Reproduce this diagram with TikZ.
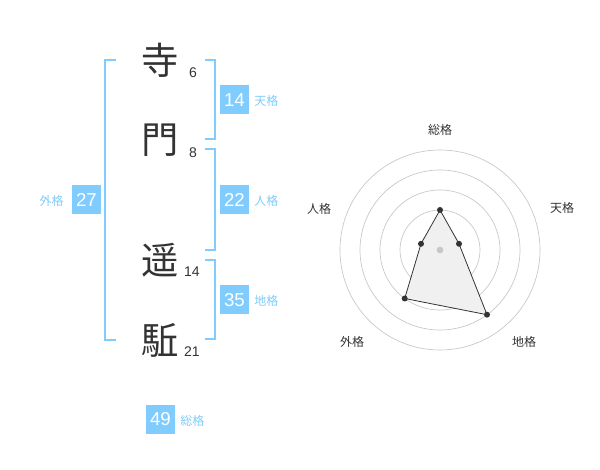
\documentclass[tikz,border=0pt]{standalone}
\usepackage{fontspec}
\setmainfont{Liberation Sans}
\newfontfamily\cjk{Noto Sans CJK JP}
\definecolor{bl}{HTML}{80CCFF}
\definecolor{lbl}{HTML}{80CCF8}
\definecolor{txt}{HTML}{333333}
\begin{document}
\begin{tikzpicture}[x=0.75pt,y=-0.75pt,
  kanji/.style={font=\cjk\fontsize{28}{28}\selectfont,text=txt,inner sep=0pt},
  strk/.style={font=\fontsize{10.5}{10.5}\selectfont,text=txt,inner sep=0pt},
  valbox/.style={fill=bl,text=white,minimum width=21.75pt,minimum height=21.75pt,inner sep=0pt,font=\fontsize{14}{14}\selectfont},
  kaku/.style={font=\cjk\fontsize{9}{9}\selectfont,text=lbl,inner sep=0pt},
  brk/.style={draw=bl,line width=1.5pt},
  ring/.style={draw=black!22,line width=0.5pt},
  axlbl/.style={font=\cjk\fontsize{9}{9}\selectfont,text=txt,inner sep=0pt},
  dot/.style={circle,fill=txt,inner sep=0pt,minimum size=4.5pt}]
\useasboundingbox (0,0) rectangle (600,470);
% characters
\node[kanji] (c1) at (160,60) {寺};
\node[kanji] (c2) at (160,140) {門};
\node[kanji] (c3) at (160,260) {遥};
\node[kanji] (c4) at (160,340) {駈};
\node[strk] (n1) at (193,73) {6};
\node[strk] (n2) at (193,153) {8};
\node[strk] (n3) at (192,272) {14};
\node[strk] (n4) at (192,352) {21};
% brackets
\draw[brk] (116,60) -- (104.5,60) -- (104.5,340) -- (116,340);
\draw[brk] (205,60) -- (214.5,60) -- (214.5,139.5) -- (205,139.5);
\draw[brk] (205,149.5) -- (214.5,149.5) -- (214.5,250) -- (205,250);
\draw[brk] (205,260) -- (214.5,260) -- (214.5,339.5) -- (205,339.5);
% value boxes
\node[valbox] (ten) at (234.5,100) {14};
\node[kaku,anchor=west] (tenl) at (254,101) {天格};
\node[valbox] (jin) at (234.5,200) {22};
\node[kaku,anchor=west] (jinl) at (254,201) {人格};
\node[valbox] (chi) at (234.5,300) {35};
\node[kaku,anchor=west] (chil) at (254,301) {地格};
\node[valbox] (gai) at (86.5,200) {27};
\node[kaku,anchor=east] (gail) at (64,201) {外格};
\node[valbox] (sou) at (160.5,419.5) {49};
\node[kaku,anchor=west] (soul) at (180,421) {総格};
% radar
\coordinate (o) at (440,250);
\foreach \r in {20,40,60,80,100} \draw[ring] (o) circle[radius=\r*0.75pt];
\path (o) ++(0,-40) coordinate (ps);
\path (o) ++(19.0,-6.2) coordinate (pt);
\path (o) ++(47.0,64.7) coordinate (pc);
\path (o) ++(-35.3,48.5) coordinate (pg);
\path (o) ++(-19.0,-6.2) coordinate (pj);
\draw[fill=black!6,draw=txt,line width=0.6pt] (ps) -- (pt) -- (pc) -- (pg) -- (pj) -- cycle;
\fill[black!22] (o) circle[radius=2.5pt];
\foreach \p in {ps,pt,pc,pg,pj} \node[dot] at (\p) {};
\node[axlbl] (as) at (440,130) {総格};
\node[axlbl] (at) at (562,208) {天格};
\node[axlbl] (ac) at (524,342) {地格};
\node[axlbl] (ag) at (352,342) {外格};
\node[axlbl] (aj) at (319,209) {人格};
\end{tikzpicture}
\end{document}
